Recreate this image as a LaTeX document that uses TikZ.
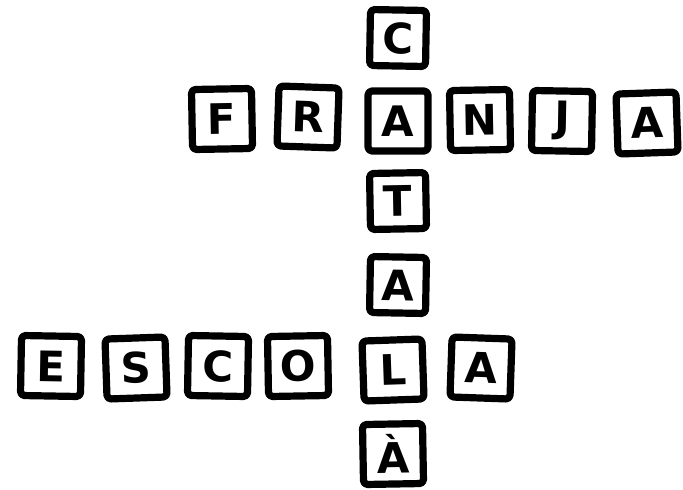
\documentclass[tikz,border=0pt]{standalone}
\usepackage{fontspec}
\setsansfont{DejaVu Sans}
\usetikzlibrary{calc}
\tikzset{
    tile/.style={
        draw=black, line width=3.6pt, rounded corners=2pt,
        minimum width=30pt, minimum height=30pt, inner sep=0pt,
        font=\sffamily\bfseries\fontsize{21}{24}\selectfont
    },
    small tile/.style={
        tile, minimum width=28pt, minimum height=28pt
    }
}

\begin{document}
\begin{tikzpicture}[x=0.5pt,y=-0.5pt, line cap=round, line join=round]

\useasboundingbox (0,0) rectangle (683,489);

% vertical word: C A T A L A
\node[small tile, rotate=-1] (cat1) at (398,38) {C};
\node[small tile, rotate=1] (cat3) at (398,201) {T};
\node[small tile, rotate=-1] (cat4) at (398,285) {A};
\node[tile, rotate=1] (cat6) at (393,454) {À};

% FRANJA
\foreach \x/\y/\l/\r [count=\i] in {222/119/F/1, 308/117/R/-2, 398/121/A/0,
                                   480/120/N/1, 562/121/J/-1, 647/123/A/2} {
  \node[tile, rotate=\r] (franja\i) at (\x,\y) {\l};
}

% ESCOLA
\foreach \x/\y/\l/\r [count=\i] in {51/366/E/-1, 136/368/S/2, 218/366/C/-1,
                                   298/366/O/1, 393/370/L/2, 481/368/A/-2} {
  \node[tile, rotate=\r] (escola\i) at (\x,\y) {\l};
}

\end{tikzpicture}
\end{document}
